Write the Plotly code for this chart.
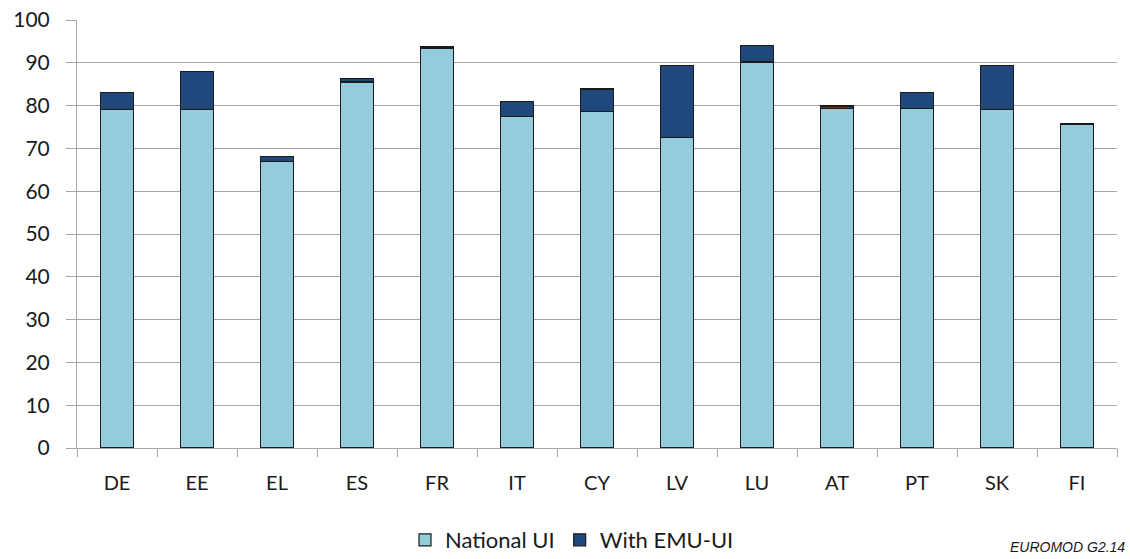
import plotly.graph_objects as go

countries = ["DE", "EE", "EL", "ES", "FR", "IT", "CY", "LV", "LU", "AT", "PT", "SK", "FI"]
national_ui = [79.0, 79.0, 67.0, 85.5, 93.3, 77.5, 78.7, 72.6, 90.2, 79.4, 79.4, 79.1, 75.6]
with_emu_ui = [83.0, 87.9, 68.1, 86.4, 93.7, 80.9, 83.9, 89.3, 94.0, 79.9, 83.0, 89.3, 75.9]

emu_extra = [round(t - n, 2) for t, n in zip(with_emu_ui, national_ui)]

LIGHT = "#93CDDD"
DARK = "#1F497D"
GRID = "#A6A6A6"
FONT = "Lato"

fig = go.Figure()
fig.add_trace(go.Bar(x=countries, y=national_ui, name="National UI",
                     marker=dict(color=LIGHT, line=dict(color="#1a1a1a", width=1.2))))
fig.add_trace(go.Bar(x=countries, y=emu_extra, name="With EMU-UI",
                     marker=dict(color=DARK, line=dict(color="#1a1a1a", width=1.2))))

fig.update_layout(
    barmode="stack",
    bargap=0.59,
    width=1130, height=559,
    margin=dict(l=77, r=13, t=20, b=111),
    plot_bgcolor="white",
    paper_bgcolor="white",
    font=dict(family=FONT, size=20, color="#1a1a1a"),
    showlegend=True,
    legend=dict(orientation="h", xref="container", yref="container",
                x=572 / 1130, xanchor="center", y=(559 - 540) / 559, yanchor="middle",
                font=dict(size=22), traceorder="normal"),
)
fig.update_xaxes(
    automargin=False,
    showline=True, linecolor=GRID, linewidth=1,
    ticks="outside", tickson="boundaries", ticklen=8, tickcolor=GRID,
    showgrid=False, tickfont=dict(size=20), ticklabelstandoff=17,
)
fig.update_yaxes(
    automargin=False,
    range=[0, 100], dtick=10,
    showline=True, linecolor=GRID, linewidth=1,
    showgrid=True, gridcolor=GRID, gridwidth=1,
    ticks="outside", ticklen=10, tickcolor=GRID,
    tickfont=dict(size=21), zeroline=False, ticklabelstandoff=12,
)
fig.add_annotation(text="<i>EUROMOD G2.14</i>", xref="paper", yref="paper",
                   x=(1127 - 77) / 1040, y=-(557 - 448) / 428, xanchor="right", yanchor="bottom",
                   showarrow=False, font=dict(family="Liberation Sans", size=14, color="#1a1a1a"))

# the default page has an 8px body margin; drop it so the figure fills the window
fig.write_html("out.html", config={"displayModeBar": False},
               post_script="document.body.style.margin='0';")
